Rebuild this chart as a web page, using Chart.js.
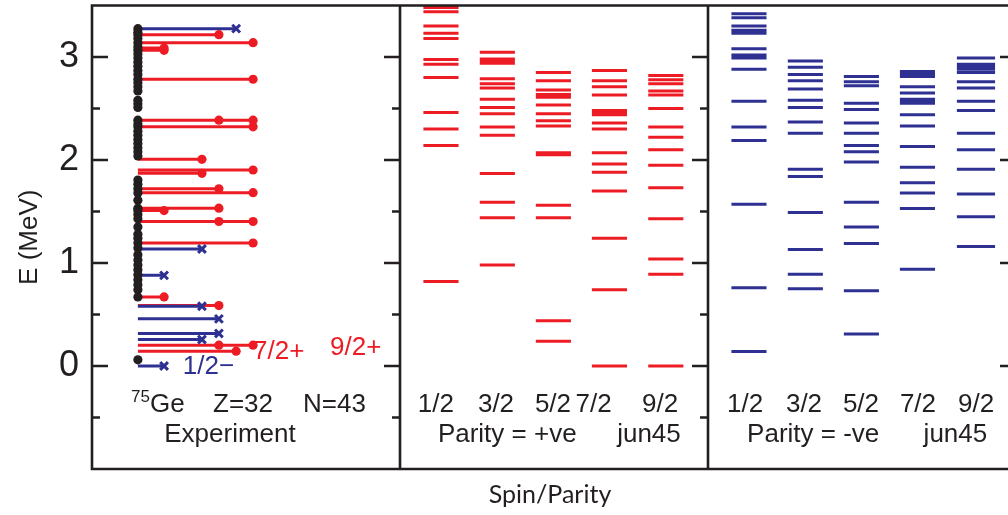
<!DOCTYPE html>
<html>
<head>
<meta charset="utf-8">
<script src="https://cdn.jsdelivr.net/npm/chart.js@4.4.1/dist/chart.umd.min.js"></script>
<style>
  html, body { margin: 0; padding: 0; background: #fff; }
  #wrap { width: 1008px; height: 515px; }
</style>
</head>
<body>
<div id="wrap"><canvas id="levels" width="1008" height="515"></canvas></div>
<script>
// ---------- data (energies in MeV) ----------
const spins = ['1/2', '3/2', '5/2', '7/2', '9/2'];
const yTickValues = [0, 1, 2, 3];

// jun45 shell-model levels, positive parity, one list per spin
const jun45Pos12 = [3.48, 3.44, 3.30, 3.23, 3.18, 2.975, 2.93, 2.80, 2.46, 2.30, 2.14, 0.82];
const jun45Pos32 = [3.045, 2.98, 2.96, 2.94, 2.79, 2.74, 2.70, 2.59, 2.51, 2.45, 2.32, 2.24, 1.87, 1.59, 1.44, 0.98];
const jun45Pos52 = [2.85, 2.77, 2.68, 2.635, 2.61, 2.535, 2.45, 2.38, 2.33, 2.07, 2.05, 1.56, 1.44, 0.44, 0.24];
const jun45Pos72 = [2.87, 2.77, 2.71, 2.63, 2.48, 2.46, 2.44, 2.36, 2.30, 2.07, 1.96, 1.88, 1.70, 1.24, 0.74, 0.0];
const jun45Pos92 = [2.82, 2.78, 2.74, 2.67, 2.63, 2.50, 2.32, 2.22, 2.10, 1.95, 1.73, 1.43, 1.04, 0.89, 0.0];

// jun45 shell-model levels, negative parity, one list per spin
const jun45Neg12 = [3.42, 3.38, 3.30, 3.26, 3.23, 3.08, 3.02, 2.99, 2.88, 2.57, 2.32, 2.19, 1.57, 0.76, 0.14];
const jun45Neg32 = [2.96, 2.90, 2.83, 2.77, 2.69, 2.58, 2.51, 2.37, 2.26, 1.91, 1.84, 1.49, 1.13, 0.89, 0.75];
const jun45Neg52 = [2.81, 2.76, 2.72, 2.55, 2.49, 2.36, 2.26, 2.14, 2.08, 1.98, 1.59, 1.35, 1.19, 0.73, 0.31];
const jun45Neg72 = [2.86, 2.84, 2.81, 2.71, 2.65, 2.59, 2.57, 2.55, 2.44, 2.33, 2.13, 1.93, 1.78, 1.68, 1.53, 0.94];
const jun45Neg92 = [2.99, 2.93, 2.90, 2.88, 2.85, 2.76, 2.70, 2.57, 2.48, 2.26, 2.10, 1.91, 1.67, 1.45, 1.16];

// measured 75Ge levels (all, regardless of spin assignment)
const expAllLevels = [3.275, 3.24, 3.217, 3.18, 3.139, 3.10, 3.065, 3.03, 2.99, 2.95, 2.91, 2.87, 2.83,
  2.784, 2.75, 2.71, 2.67, 2.58, 2.545, 2.51, 2.387, 2.35, 2.322, 2.28, 2.24, 2.20, 2.16, 2.12, 2.08,
  2.04, 1.806, 1.765, 1.72, 1.68, 1.61, 1.532, 1.509, 1.47, 1.43, 1.35, 1.28, 1.24, 1.194, 1.145,
  1.08, 1.03, 0.98, 0.935, 0.887, 0.838, 0.79, 0.74, 0.671, 0.06];

// measured levels with positive-parity spin assignments
const expPosEnergy = [3.217, 3.139, 3.087, 3.065, 2.784, 2.387, 2.322, 2.007, 1.903, 1.871,
  1.72, 1.683, 1.532, 1.509, 1.403, 1.194, 0.671, 0.587, 0.202, 0.144];
const expPosSpins = [['5/2'], ['9/2'], ['1/2'], ['1/2'], ['9/2'], ['5/2', '9/2'], ['9/2'], ['3/2'],
  ['9/2'], ['3/2'], ['5/2'], ['9/2'], ['5/2'], ['1/2'], ['5/2', '9/2'], ['9/2'], ['1/2'], ['5/2'],
  ['5/2', '9/2'], ['7/2']];

// measured levels with negative-parity spin assignments
const expNegEnergy = [3.275, 1.136, 0.880, 0.580, 0.458, 0.316, 0.257, 0.0];
const expNegSpins = [['7/2'], ['3/2'], ['1/2'], ['3/2'], ['5/2'], ['5/2'], ['3/2'], ['1/2']];

// ---------- layout (x in panel units, 10 per panel) ----------
const PANEL = 10;
const X_MAX = 29.74;
const SHELL_COLS = [1.33, 3.16, 4.98, 6.80, 8.63];
const BAR_HALF = [0.57, 0.57, 0.57, 0.57, 0.57];
const NEG_BAR_HALF = [0.57, 0.57, 0.57, 0.57, 0.62];
const NEG_COLS = [1.33, 3.16, 4.98, 6.80, 8.70];
const EXP_BASE = 1.49;
const EXP_COLS = { '1/2': 2.34, '3/2': 3.57, '5/2': 4.12, '7/2': 4.68, '9/2': 5.23 };

const RED = '#ed1c24';
const BLUE = '#2e3192';
const INK = '#231f20';
const SANS = '"Liberation Sans", Arial, sans-serif';

// horizontal bars with null gaps between them
function barSegments(lists, panel, cols, halves) {
  const pts = [];
  lists.forEach((list, i) => {
    const c = panel * PANEL + cols[i];
    list.forEach(e => {
      pts.push({ x: c - halves[i], y: e }, { x: c + halves[i], y: e }, { x: c, y: null });
    });
  });
  return pts;
}
// lines from the level column out to the furthest assigned spin
function expSegments(energies, spinSets) {
  const pts = [];
  energies.forEach((e, i) => {
    const far = Math.max(...spinSets[i].map(s => EXP_COLS[s]));
    pts.push({ x: EXP_BASE, y: e }, { x: far, y: e }, { x: EXP_BASE, y: null });
  });
  return pts;
}
function expMarkers(energies, spinSets) {
  const pts = [];
  energies.forEach((e, i) => spinSets[i].forEach(s => pts.push({ x: EXP_COLS[s], y: e })));
  return pts;
}

const barLine = (data, color, order) => ({
  type: 'scatter', data, showLine: true, spanGaps: false, borderColor: color,
  borderWidth: 3, borderCapStyle: 'butt', pointRadius: 0, order
});

const datasets = [
  { type: 'scatter', data: expMarkers(expNegEnergy, expNegSpins), pointStyle: 'crossRot',
    pointRadius: 5.5, borderColor: BLUE, backgroundColor: BLUE, pointBorderWidth: 3, order: 1 },
  { type: 'scatter', data: expMarkers(expPosEnergy, expPosSpins), pointStyle: 'circle',
    pointRadius: 4.6, borderColor: RED, backgroundColor: RED, pointBorderWidth: 0, order: 1 },
  { type: 'scatter', data: expAllLevels.map(e => ({ x: EXP_BASE, y: e })), pointStyle: 'circle',
    pointRadius: 4.6, borderColor: INK, backgroundColor: INK, pointBorderWidth: 0, order: 2 },
  barLine(expSegments(expNegEnergy, expNegSpins), BLUE, 3),
  barLine(expSegments(expPosEnergy, expPosSpins), RED, 3),
  barLine(barSegments([jun45Pos12, jun45Pos32, jun45Pos52, jun45Pos72, jun45Pos92], 1, SHELL_COLS, BAR_HALF), RED, 4),
  barLine(barSegments([jun45Neg12, jun45Neg32, jun45Neg52, jun45Neg72, jun45Neg92], 2, NEG_COLS, NEG_BAR_HALF), BLUE, 4)
];

// panel frames with inward tick marks
const framePlugin = {
  id: 'panelFrames',
  afterDraw(chart) {
    const { ctx, chartArea: a, scales: { x, y } } = chart;
    ctx.save();
    ctx.strokeStyle = INK;
    ctx.lineWidth = 2.6;
    ctx.lineCap = 'butt';
    ctx.beginPath();
    ctx.moveTo(a.left - 1.3, a.top); ctx.lineTo(a.right + 12, a.top);
    ctx.moveTo(a.left - 1.3, a.bottom); ctx.lineTo(a.right + 12, a.bottom);
    [0, 1, 2, 3].forEach(p => {
      const xp = x.getPixelForValue(p * PANEL);
      ctx.moveTo(xp, a.top - 1.3); ctx.lineTo(xp, a.bottom + 1.3);
    });
    const ticks = [];
    for (let v = -0.5; v <= 3.01; v += 0.5) ticks.push(v);
    ticks.forEach(v => {
      const yp = y.getPixelForValue(v);
      const len = Number.isInteger(v) ? 16 : 8;
      ctx.moveTo(x.getPixelForValue(0), yp); ctx.lineTo(x.getPixelForValue(0) + len, yp);
      [1, 2, 3].forEach(p => {
        const xp = x.getPixelForValue(p * PANEL);
        ctx.moveTo(xp, yp); ctx.lineTo(xp - len, yp);
      });
    });
    ctx.stroke();
    ctx.restore();
  }
};

// spin labels and panel captions
const labelPlugin = {
  id: 'panelLabels',
  afterDatasetsDraw(chart) {
    const { ctx, scales: { x, y } } = chart;
    const put = (text, u, e, color, size, align) => {
      ctx.font = size + 'px ' + SANS;
      ctx.fillStyle = color;
      ctx.textAlign = align || 'left';
      ctx.textBaseline = 'middle';
      ctx.fillText(text, x.getPixelForValue(u), y.getPixelForValue(e));
    };
    ctx.save();
    // experiment panel
    put('75', 1.27, -0.30, INK, 17);
    put('Ge', 1.88, -0.375, INK, 26);
    put('Z=32', 3.93, -0.375, INK, 26);
    put('N=43', 6.85, -0.375, INK, 26);
    put('Experiment', 4.48, -0.665, INK, 26, 'center');
    put('1/2\u2212', 2.95, -0.005, BLUE, 26);
    put('7/2+', 5.23, 0.135, RED, 26);
    put('9/2+', 7.73, 0.18, RED, 26);
    // shell-model panels
    const posSpinX = [0.58, 2.53, 4.38, 5.70, 7.86];
    const negSpinX = [0.62, 2.53, 4.38, 6.23, 8.12];
    spins.forEach((s, i) => {
      put(s, PANEL + posSpinX[i], -0.375, INK, 26);
      put(s, 2 * PANEL + negSpinX[i], -0.375, INK, 26);
    });
    put('Parity = +ve', PANEL + 1.23, -0.665, INK, 26);
    put('jun45', PANEL + 7.05, -0.665, INK, 26);
    put('Parity = -ve', 2 * PANEL + 1.27, -0.665, INK, 26);
    put('jun45', 2 * PANEL + 7.0, -0.665, INK, 26);
    ctx.restore();
  }
};

const noScalePadding = s => { s.paddingTop = 0; s.paddingBottom = 0; s.paddingLeft = 0; s.paddingRight = 0; };

new Chart(document.getElementById('levels'), {
  type: 'scatter',
  data: { datasets },
  options: {
    responsive: false,
    animation: false,
    devicePixelRatio: 1,
    layout: { autoPadding: false, padding: { top: 5.5, right: 0, left: 0, bottom: 0 } },
    plugins: { legend: { display: false }, tooltip: { enabled: false } },
    scales: {
      x: {
        type: 'linear', min: 0, max: X_MAX,
        grid: { display: false, drawTicks: false },
        border: { display: false },
        ticks: { display: false },
        title: { display: true, text: 'Spin/Parity', color: INK,
          font: { family: 'Lato, "Open Sans", sans-serif', size: 25 },
          padding: { top: 0, bottom: 5 } },
        afterFit: s => { s.height = 46; noScalePadding(s); }
      },
      y: {
        type: 'linear', min: -1, max: 3.5,
        afterBuildTicks: s => { s.ticks = yTickValues.map(v => ({ value: v })); },
        grid: { display: false, drawTicks: false },
        border: { display: false },
        ticks: { color: INK, font: { family: SANS, size: 36 }, padding: 13 },
        title: { display: true, text: 'E (MeV)', color: INK,
          font: { family: SANS, size: 26 }, padding: { top: 14, bottom: 0 } },
        afterFit: s => { s.width = 92; noScalePadding(s); }
      }
    }
  },
  plugins: [labelPlugin, framePlugin]
});
</script>
</body>
</html>
